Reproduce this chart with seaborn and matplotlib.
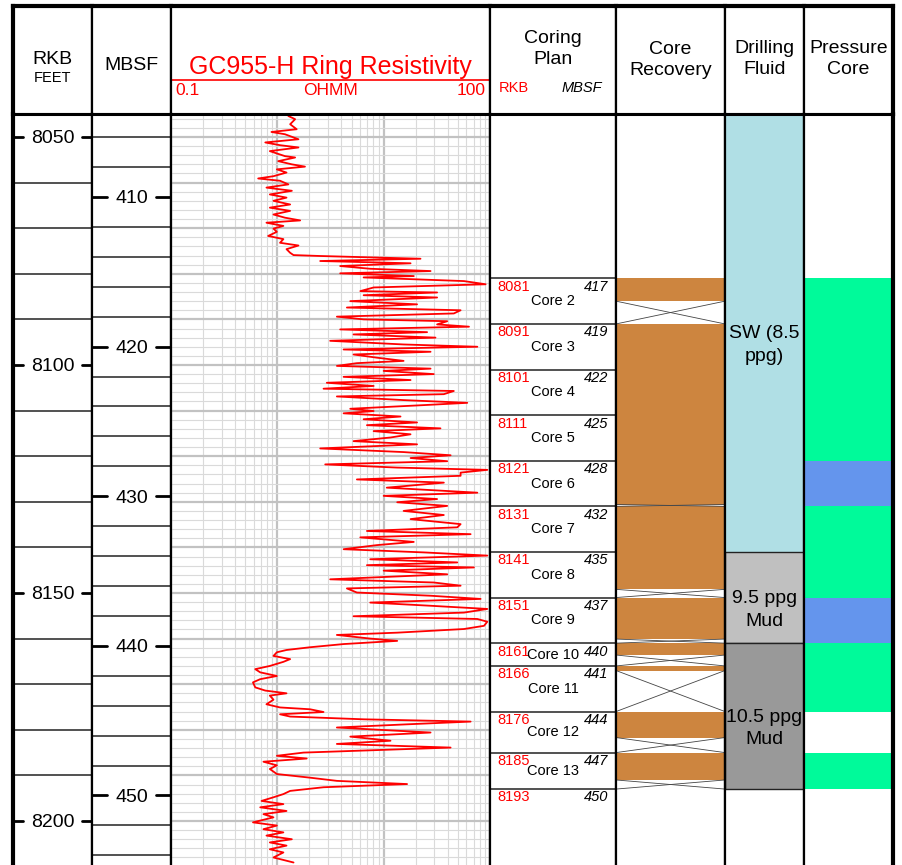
import matplotlib
matplotlib.use("Agg")
import matplotlib.pyplot as plt
from matplotlib.ticker import LogLocator, MultipleLocator
import numpy as np
import seaborn as sns

# ---------------- data ----------------
depth_ft = [
    8045.4, 8046.1, 8047.2, 8048.3, 8048.9, 8049.4, 8050.5, 8051.2, 8051.8, 8052.3,
    8053.1, 8054.2, 8054.5, 8055.3, 8056.0, 8056.5, 8057.1, 8057.8, 8058.6, 8059.1,
    8059.6, 8060.4, 8061.1, 8061.8, 8062.6, 8063.3, 8064.0, 8064.8, 8065.5, 8066.2,
    8067.0, 8067.7, 8068.3, 8068.8, 8069.5, 8070.1, 8070.8, 8071.7, 8072.4, 8073.2,
    8073.8, 8074.6, 8075.4, 8075.9, 8076.1, 8076.7, 8077.2, 8077.7, 8078.3, 8078.9,
    8079.4, 8079.9, 8080.5, 8080.8, 8081.6, 8082.3, 8083.0, 8083.8, 8084.1, 8084.7,
    8085.2, 8086.0, 8086.7, 8087.4, 8088.0, 8088.7, 8089.4, 8090.0, 8090.4, 8091.1,
    8091.6, 8092.2, 8092.8, 8093.3, 8094.0, 8094.7, 8095.5, 8096.0, 8096.6, 8097.1,
    8097.7, 8098.4, 8099.1, 8099.6, 8100.2, 8100.8, 8101.3, 8102.0, 8102.6, 8103.3,
    8103.9, 8104.6, 8105.2, 8105.7, 8106.4, 8106.9, 8107.7, 8108.3, 8108.8, 8109.6,
    8110.1, 8110.6, 8111.3, 8111.9, 8112.6, 8113.2, 8113.9, 8114.5, 8115.2, 8115.9,
    8116.7, 8117.4, 8118.3, 8119.1, 8119.8, 8120.4, 8121.1, 8121.8, 8122.5, 8123.0,
    8123.6, 8124.3, 8125.1, 8125.8, 8126.9,
    8128.0, 8128.7, 8129.4, 8130.1, 8130.9, 8132.0, 8132.9, 8133.8, 8134.9, 8135.6,
    8136.4, 8137.1, 8137.8, 8138.8, 8139.5, 8140.4, 8141.1, 8141.8, 8142.6, 8143.3,
    8143.9, 8144.4, 8145.1, 8145.9, 8147.0, 8147.7, 8148.4, 8149.0, 8149.9, 8150.6,
    8151.3, 8152.1, 8152.8, 8153.5, 8154.3, 8155.1, 8155.7, 8156.3, 8157.2, 8157.9,
    8158.7, 8159.2, 8160.0, 8160.5, 8161.2, 8161.9, 8162.5, 8163.0, 8163.8, 8164.5,
    8165.1, 8166.0, 8166.7, 8167.4, 8168.2, 8168.9, 8169.6, 8170.7, 8171.4, 8172.0,
    8172.5, 8173.4, 8174.4, 8175.1, 8175.5, 8176.1, 8176.6, 8177.1, 8177.7, 8178.2,
    8178.8, 8179.5, 8180.6, 8181.5, 8182.4, 8183.1, 8183.9, 8184.4, 8185.0, 8185.7,
    8186.3, 8187.0, 8187.8, 8188.6, 8189.7, 8190.5, 8191.2, 8191.9, 8192.6, 8193.4,
    8194.1, 8194.8, 8195.6, 8196.3, 8197.0, 8197.8, 8198.5, 8199.2, 8200.3, 8201.0,
    8201.8, 8202.5, 8203.2, 8204.0, 8204.7, 8205.4, 8206.2, 8206.9, 8208.0, 8209.1,
]
resistivity_ohmm = [
    1.27, 1.47, 1.32, 1.52, 0.88, 1.18, 1.58, 0.77, 1.06, 1.58,
    0.85, 1.18, 1.47, 1.02, 1.37, 1.82, 0.99, 1.22, 0.92, 0.66,
    1.06, 1.27, 0.79, 1.37, 0.85, 1.22, 0.92, 1.32, 0.85, 1.32,
    0.92, 1.18, 1.64, 0.79, 1.14, 0.92, 0.99, 0.82, 1.14, 1.06,
    1.58, 1.22, 1.32, 1.42, 2.53, 22.2, 2.53, 17.9, 3.90, 7.48,
    27.6, 3.90, 19.2, 6.48, 56.9, 91.0, 8.05, 6.03, 31.8, 6.48,
    31.8, 4.85, 20.6, 4.51, 52.9, 45.7, 3.63, 6.48, 39.6, 31.8,
    63.4, 3.90, 25.6, 5.21, 30.7, 3.14, 15.4, 76.0, 4.20, 27.6,
    5.21, 8.65, 15.4, 5.60, 3.63, 27.6, 10.0, 29.6, 4.20, 17.9,
    2.92, 8.05, 2.72, 45.7, 36.8, 3.63, 15.4, 61.1, 23.8, 4.85,
    8.05, 4.20, 14.4, 6.48, 20.6, 6.96, 34.2, 8.05, 17.9, 11.6,
    5.21, 20.6, 2.53, 15.4, 42.6, 17.9, 39.6, 2.82, 13.4, 94.4,
    52.9, 52.9, 5.60, 36.8, 10.7,
    76.0, 10.0, 31.8, 13.4, 39.6, 15.4, 36.8, 17.9, 52.9, 49.2,
    6.96, 65.7, 6.03, 19.2, 8.65, 4.20, 23.8, 94.4, 7.48, 49.2,
    6.96, 70.6, 10.0, 39.6, 3.14, 29.6, 52.9, 4.51, 5.60, 27.6,
    81.6, 7.48, 27.6, 94.4, 56.9, 5.21, 76.0, 94.4, 87.8, 56.9,
    13.4, 3.63, 7.48, 13.4, 4.20, 2.03, 1.22, 0.99, 0.92, 1.32,
    1.14, 0.85, 0.62, 0.69, 0.99, 0.69, 0.59, 0.62, 0.77, 1.22,
    0.85, 0.92, 0.79, 1.06, 2.03, 2.72, 1.06, 1.32, 6.48, 65.7,
    16.6, 3.63, 27.6, 4.85, 11.6, 3.63, 42.6, 10.0, 1.76, 0.99,
    1.89, 0.74, 0.99, 0.85, 0.99, 2.03, 3.63, 16.6, 2.72, 1.32,
    1.14, 0.92, 0.71, 1.14, 0.69, 1.22, 0.74, 0.92, 0.59, 0.99,
    0.74, 1.14, 0.79, 1.37, 0.85, 1.22, 0.85, 1.14, 0.92, 1.42,
]

core_names = ["Core 2", "Core 3", "Core 4", "Core 5", "Core 6", "Core 7",
              "Core 8", "Core 9", "Core 10", "Core 11", "Core 12", "Core 13"]
core_top_rkb = [8081, 8091, 8101, 8111, 8121, 8131, 8141, 8151, 8161, 8166, 8176, 8185]
core_top_mbsf = [417, 419, 422, 425, 428, 432, 435, 437, 440, 441, 444, 447]
plan_end_rkb = 8193
plan_end_mbsf = 450
recovered_bottom_rkb = [8086, 8101, 8111, 8121, 8130.6, 8141, 8149.2, 8160.1,
                        8163.6, 8167.0, 8181.7, 8191.0]

fluid_labels = ["SW (8.5\nppg)", "9.5 ppg\nMud", "10.5 ppg\nMud"]
fluid_top_rkb = [8030, 8141, 8161]
fluid_bottom_rkb = [8141, 8161, 8193]
fluid_colors = ["#b0dfe5", "#c0c0c0", "#999999"]

pcore_top_rkb = [8081, 8121, 8131, 8151, 8161, 8185]
pcore_bottom_rkb = [8121, 8131, 8151, 8161, 8176, 8193]
pcore_colors = ["#00fa9a", "#6495ed", "#00fa9a", "#6495ed", "#00fa9a", "#00fa9a"]

rkb_labels = [8050, 8100, 8150, 8200]
mbsf_labels = [410, 420, 430, 440, 450]

# depth frame of the panel and the RKB <-> MBSF tie
RKB_TOP, RKB_BOT = 8044.96, 8209.65
RKB_AT_410 = 8063.16
FT_PER_M = 3.28084

# ---------------- styling ----------------
sns.set_style("white")
plt.rcParams["font.family"] = ["Liberation Sans", "DejaVu Sans"]
plt.rcParams["text.color"] = "black"

W, H = 903, 865
fig = plt.figure(figsize=(W / 100, H / 100), dpi=100)
COL_X = [13, 92, 171, 490, 616, 725, 804, 893]
HEAD_TOP, HEAD_BOT, DATA_BOT = 6, 114, 865


def add_px_axes(x0, y0, x1, y1):
    return fig.add_axes([x0 / W, 1 - y1 / H, (x1 - x0) / W, (y1 - y0) / H])


def frame(ax, top, bottom, left, right):
    for side, lw in zip(["top", "bottom", "left", "right"], [top, bottom, left, right]):
        sp = ax.spines[side]
        if lw == 0:
            sp.set_visible(False)
        else:
            sp.set_visible(True)
            sp.set_linewidth(lw)
            sp.set_color("black")
            sp.set_zorder(5)


def hy(y):
    return (HEAD_BOT - y) / (HEAD_BOT - HEAD_TOP)


# ---------------- header ----------------
heads = []
for i in range(7):
    ax = add_px_axes(COL_X[i], HEAD_TOP, COL_X[i + 1], HEAD_BOT)
    ax.set_xlim(0, 1)
    ax.set_ylim(0, 1)
    ax.set_xticks([])
    ax.set_yticks([])
    frame(ax, 3, 2.2, 3 if i == 0 else 1.6, 3 if i == 6 else 1.6)
    heads.append(ax)

HEAD_LS = 1.3
heads[0].text(0.5, hy(60), "RKB", ha="center", va="center", fontsize=14)
heads[0].text(0.5, hy(78), "FEET", ha="center", va="center", fontsize=10.5)
heads[1].text(0.5, hy(66), "MBSF", ha="center", va="center", fontsize=14)
heads[2].text(0.5, hy(67), "GC955-H Ring Resistivity", ha="center", va="center",
              fontsize=18, color="red")
heads[2].axhline(hy(80), color="red", lw=1.2)
heads[2].text(0.015, hy(90.5), "0.1", ha="left", va="center", fontsize=12.5, color="red")
heads[2].text(0.5, hy(90.5), "OHMM", ha="center", va="center", fontsize=12.5, color="red")
heads[2].text(0.985, hy(90.5), "100", ha="right", va="center", fontsize=12.5, color="red")
heads[3].text(0.5, hy(49), "Coring\nPlan", ha="center", va="center", fontsize=14,
              linespacing=HEAD_LS)
heads[3].text(0.07, hy(88.5), "RKB", ha="left", va="center", fontsize=10.5, color="red")
heads[3].text(0.89, hy(88.5), "MBSF", ha="right", va="center", fontsize=10.5,
              style="italic")
heads[4].text(0.5, hy(60), "Core\nRecovery", ha="center", va="center", fontsize=14,
              linespacing=HEAD_LS)
heads[5].text(0.5, hy(59), "Drilling\nFluid", ha="center", va="center", fontsize=14,
              linespacing=HEAD_LS)
heads[6].text(0.5, hy(59), "Pressure\nCore", ha="center", va="center", fontsize=14,
              linespacing=HEAD_LS)

# ---------------- data tracks ----------------
tracks = []
for i in range(7):
    ax = add_px_axes(COL_X[i], HEAD_BOT, COL_X[i + 1], DATA_BOT)
    frame(ax, 2.2, 0, 3 if i == 0 else 1.6, 3 if i == 6 else 1.6)
    tracks.append(ax)
ax_rkb, ax_mbsf, ax_res, ax_plan, ax_rec, ax_fluid, ax_pc = tracks

for ax in [ax_rkb, ax_plan, ax_rec, ax_fluid, ax_pc]:
    ax.set_xlim(0, 1)
    ax.set_ylim(RKB_BOT, RKB_TOP)
    ax.set_xticks([])
    ax.set_yticks([])

# RKB depth track
for d in range(8060, 8210, 10):
    if d in rkb_labels:
        continue
    ax_rkb.axhline(d, color="#222222", lw=1.1)
for d in rkb_labels:
    ax_rkb.plot([0, 0.13], [d, d], color="black", lw=2)
    ax_rkb.plot([0.87, 1], [d, d], color="black", lw=2)
    ax_rkb.text(0.5, d, str(d), ha="center", va="center_baseline", fontsize=14)

# MBSF depth track
mb_top = 410 + (RKB_TOP - RKB_AT_410) / FT_PER_M
mb_bot = 410 + (RKB_BOT - RKB_AT_410) / FT_PER_M
ax_mbsf.set_xlim(0, 1)
ax_mbsf.set_ylim(mb_bot, mb_top)
ax_mbsf.set_xticks([])
ax_mbsf.set_yticks([])
for m in range(406, 456, 2):
    if m in mbsf_labels:
        continue
    ax_mbsf.axhline(m, color="#222222", lw=1.1)
for m in mbsf_labels:
    ax_mbsf.plot([0, 0.19], [m, m], color="black", lw=2)
    ax_mbsf.plot([0.81, 1], [m, m], color="black", lw=2)
    ax_mbsf.text(0.5, m, str(m), ha="center", va="center_baseline", fontsize=14)

# Resistivity track
ax_res.set_xscale("log")
sns.lineplot(x=resistivity_ohmm, y=depth_ft, sort=False, estimator=None,
             color="red", lw=1.3, ax=ax_res)
ax_res.set_xlim(0.1, 100)
ax_res.set_ylim(RKB_BOT, RKB_TOP)
ax_res.xaxis.set_major_locator(LogLocator(base=10, numticks=10))
ax_res.xaxis.set_minor_locator(LogLocator(base=10, subs=np.arange(2, 10), numticks=10))
ax_res.yaxis.set_major_locator(MultipleLocator(10))
ax_res.yaxis.set_minor_locator(MultipleLocator(2))
ax_res.grid(True, which="major", axis="both", color="#c2c2c2", lw=1.6)
ax_res.grid(True, which="minor", axis="both", color="#dadada", lw=0.8)
ax_res.set_axisbelow(True)
ax_res.tick_params(which="both", length=0, labelbottom=False, labelleft=False)
ax_res.set_xlabel("")
ax_res.set_ylabel("")

# Coring plan track
plan_bounds = core_top_rkb + [plan_end_rkb]
plan_mbsf = core_top_mbsf + [plan_end_mbsf]
core_bottom_rkb = core_top_rkb[1:] + [plan_end_rkb]
ytr = ax_plan.get_yaxis_transform()
for d, mb in zip(plan_bounds, plan_mbsf):
    ax_plan.axhline(d, color="#333333", lw=1.2)
    ax_plan.annotate(str(d), xy=(0.06, d), xycoords=ytr, xytext=(0, -1),
                     textcoords="offset points", ha="left", va="top",
                     fontsize=10.5, color="red")
    ax_plan.annotate(str(mb), xy=(0.94, d), xycoords=ytr, xytext=(0, -1),
                     textcoords="offset points", ha="right", va="top",
                     fontsize=10.5, style="italic")
for name, t, b in zip(core_names, core_top_rkb, core_bottom_rkb):
    ax_plan.text(0.5, (t + b) / 2, name, ha="center", va="center", fontsize=10.5)

# Core recovery track
ax_rec.bar(x=0.5, width=1, bottom=core_top_rkb,
           height=np.subtract(recovered_bottom_rkb, core_top_rkb),
           color="#cd853f", edgecolor="none")
for rb, cb in zip(recovered_bottom_rkb, core_bottom_rkb):
    if cb > rb:
        ax_rec.plot([0, 1], [rb, cb], color="#444444", lw=0.6)
        ax_rec.plot([0, 1], [cb, rb], color="#444444", lw=0.6)

# Drilling fluid track
for i, (t, b, c, lab) in enumerate(zip(fluid_top_rkb, fluid_bottom_rkb, fluid_colors,
                                       fluid_labels)):
    ax_fluid.bar(x=0.5, width=1, bottom=t, height=b - t, color=c,
                 edgecolor="none" if i == 0 else "#222222", lw=1.0)
    vis_top = max(t, RKB_TOP)
    ax_fluid.text(0.5, (vis_top + b) / 2 + 2.7, lab, ha="center", va="center",
                  fontsize=14, linespacing=1.45)

# Pressure core track
ax_pc.bar(x=0.5, width=1, bottom=pcore_top_rkb,
          height=np.subtract(pcore_bottom_rkb, pcore_top_rkb),
          color=pcore_colors, edgecolor="none")

fig.savefig("out.png", dpi=100)
